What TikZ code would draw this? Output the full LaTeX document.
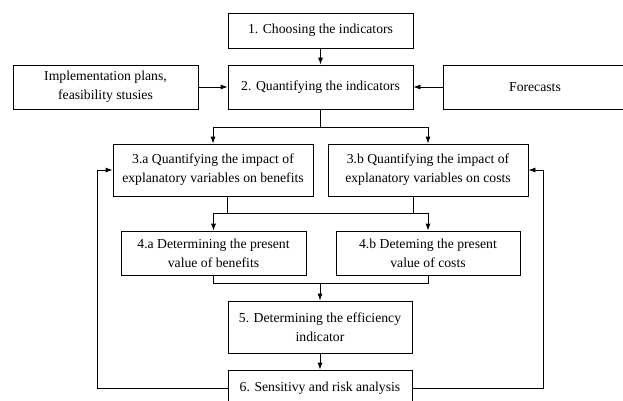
\documentclass[tikz,border=0pt]{standalone}
\usepackage{fontspec}
\setmainfont{Liberation Serif}
\usetikzlibrary{arrows.meta}

\begin{document}
\begin{tikzpicture}[x=1pt,y=-1pt,
    stage/.style={draw,line width=0.8pt,align=center,inner sep=0pt,
        font=\fontsize{13.7}{19}\selectfont},
    flow/.style={line width=0.8pt,-{Latex[length=7pt,width=5pt]}},
    link/.style={line width=0.8pt}]
    \useasboundingbox (0,0) rectangle (623,400);

    % main column
    \node[stage,minimum width=185pt,minimum height=35pt] (choose) at (320.5,30.5) {1. Choosing the indicators};
    \node[stage,minimum width=185pt,minimum height=44pt] (quant) at (320.5,87) {2. Quantifying the indicators};
    \node[stage,minimum width=185pt,minimum height=44pt] (plans) at (105.5,87) {Implementation plans,\\feasibility stusies};
    \node[stage,minimum width=184pt,minimum height=44pt] (fore) at (535,87) {Forecasts};
    \node[stage,minimum width=200pt,minimum height=52pt] (impa) at (213,170) {3.a Quantifying the impact of\\explanatory variables on benefits};
    \node[stage,minimum width=200pt,minimum height=52pt] (impb) at (428,170) {3.b Quantifying the impact of\\explanatory variables on costs};
    \node[stage,minimum width=185pt,minimum height=44pt] (pva) at (213.5,253) {4.a Determining the present\\value of benefits};
    \node[stage,minimum width=184pt,minimum height=44pt] (pvb) at (428,253) {4.b Deteming the present\\value of costs};
    \node[stage,minimum width=184pt,minimum height=52pt] (eff) at (320,327) {5. Determining the efficiency\\indicator};
    \node[stage,minimum width=184pt,minimum height=36pt] (risk) at (320,388) {6. Sensitivy and risk analysis};

    \coordinate (split) at (320.5,127);
    \coordinate (join) at (320,213);
    \coordinate (merge) at (320,283);

    \draw[flow] (choose) -- (quant);
    \draw[flow] (plans) -- (quant);
    \draw[flow] (fore) -- (quant);
    \draw[link] (quant) -- (split);
    \draw[flow] (split) -| (impa.north);
    \draw[flow] (split) -| (impb.north);
    \draw[link] (impa.south -| quant.west) |- (join);
    \draw[link] (impb.south -| quant.east) |- (join);
    \draw[flow] (join) -| (pva.north);
    \draw[flow] (join) -| (pvb.north);
    \draw[link] (pva.south) |- (merge);
    \draw[link] (pvb.south) |- (merge);
    \draw[flow] (merge) -- (eff);
    \draw[flow] (eff) -- (risk);

    % feedback
    \draw[flow] (risk.west) -- (97,388) |- (impa.west);
    \draw[flow] (risk.east) -- (543,388) |- (impb.east);

\end{tikzpicture}
\end{document}
